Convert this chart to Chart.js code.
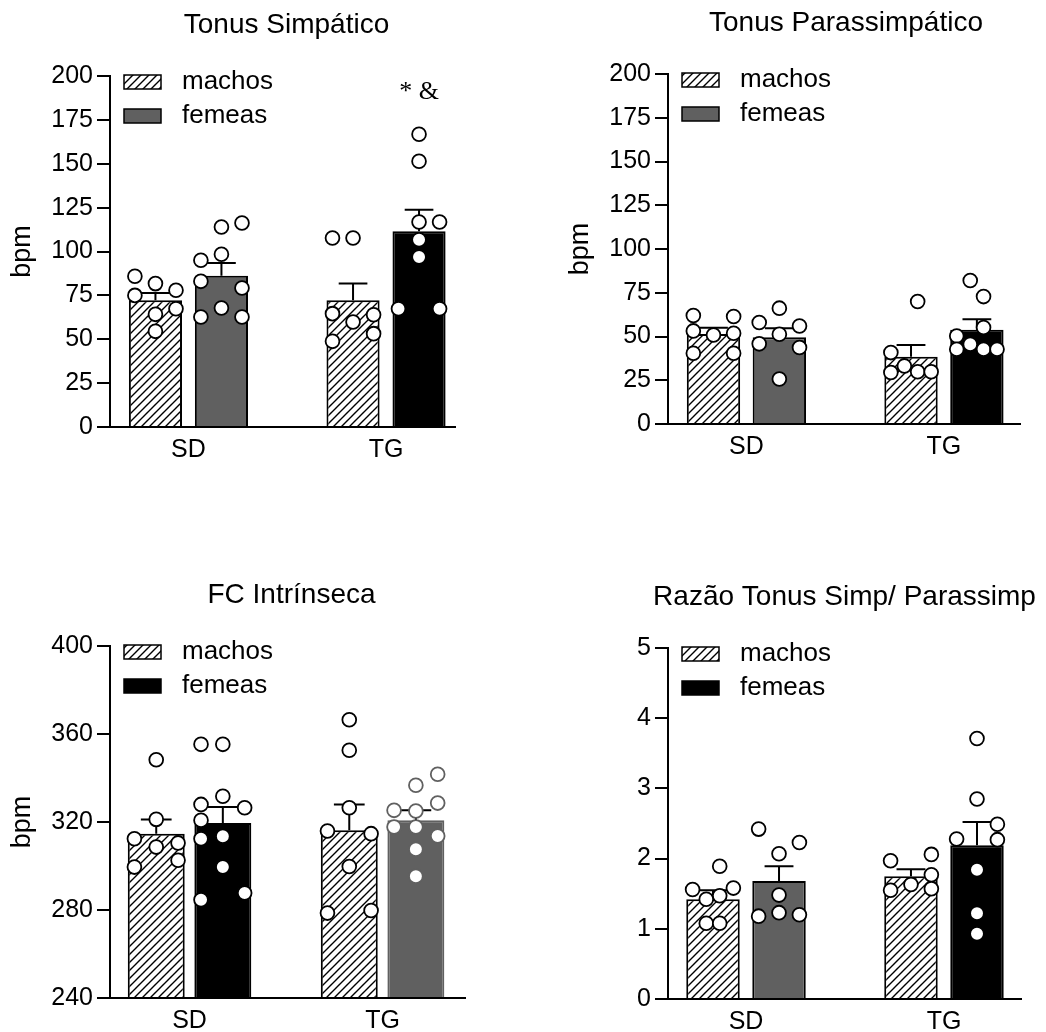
<!DOCTYPE html>
<html>
<head>
<meta charset="utf-8">
<script src="https://cdn.jsdelivr.net/npm/chart.js@4.4.1/dist/chart.umd.min.js"></script>
<style>
  html, body { margin: 0; padding: 0; background: #fff; }
  body { width: 1046px; height: 1032px; position: relative; overflow: hidden; }
  canvas { position: absolute; }
</style>
</head>
<body>
<canvas id="ts"></canvas>
<canvas id="tp"></canvas>
<canvas id="fc"></canvas>
<canvas id="rz"></canvas>
<script>
// four bar + dot panels (mean, SEM, individual animals)

const groups = ["SD", "TG"];
const sexLabels = ["machos", "femeas"];

// ---------- Tonus Simpático ----------
const tsYTicks = [0, 25, 50, 75, 100, 125, 150, 175, 200];
const tsMachosMean = [72.2, 72.2];
const tsMachosSem = [4.2, 9.5];
const tsFemeasMean = [86.2, 111.5];
const tsFemeasSem = [7.2, 12.3];
const tsMachosPts = [[85.9, 81.7, 77.9, 75.0, 67.4, 64.2, 54.5], [107.7, 107.7, 64.6, 64.0, 59.8, 53.2, 48.8]];
const tsMachosLanes = [[-1, 0, 1, -1, 1, 0, 0], [-1, 0, -1, 1, 0, 1, -1]];
const tsFemeasPts = [[114, 116.2, 95, 98.4, 83, 79.2, 67.8, 62.7, 62.7], [166.8, 151.4, 116.8, 116.8, 106.7, 96.9, 67.4, 67.4]];
const tsFemeasLanes = [[0, 1, -1, 0, -1, 1, 0, -1, 1], [0, 0, 0, 1, 0, 0, -1, 1]];
const tsFemeasNotes = ["", "* &"];

// ---------- Tonus Parassimpático ----------
const tpYTicks = [0, 25, 50, 75, 100, 125, 150, 175, 200];
const tpMachosMean = [51.5, 38.5];
const tpMachosSem = [3.5, 6.7];
const tpFemeasMean = [49.6, 53.8];
const tpFemeasSem = [5.1, 6.1];
const tpMachosPts = [[62, 61.4, 53.2, 50.9, 51.9, 40.4, 40.4], [70, 40.8, 33.2, 29.4, 29.9, 29.9]];
const tpMachosLanes = [[-1, 1, -1, 0, 1, -1, 1], [0.33, -1, -0.33, -1, 0.33, 1]];
const tpFemeasPts = [[66.2, 58, 56, 51.3, 45.8, 43.7, 25.7], [82, 72.8, 55.1, 50.3, 45.6, 42.7, 42.7, 42.7]];
const tpFemeasLanes = [[0, -1, 1, 0, -1, 1, 0], [-0.33, 0.33, 0.33, -1, -0.33, -1, 0.33, 1]];

// ---------- FC Intrínseca ----------
const fcYTicks = [240, 280, 320, 360, 400];
const fcMachosMean = [314.7, 316.2];
const fcMachosSem = [6.4, 11.8];
const fcFemeasMean = [319.5, 320.8];
const fcFemeasSem = [7.3, 4.5];
const fcMachosPts = [[348.3, 321.2, 312.4, 310.5, 308.6, 302.6, 299.5], [366.5, 352.6, 326.5, 315.9, 314.7, 299.8, 278.6, 279.8]];
const fcMachosLanes = [[0, 0, -1, 1, 0, 1, -1], [0, 0, 0, -1, 1, 0, -1, 1]];
const fcFemeasPts = [[355.3, 355.3, 331.7, 328, 326.5, 320.8, 312.4, 313.5, 299.5, 287.7, 284.7], [341.7, 336.7, 328.6, 325.3, 325, 317.7, 317.7, 313.6, 307.6, 295.3]];
const fcFemeasLanes = [[-1, 0, 0, -1, 1, -1, -1, 0, 0, 1, -1], [1, 0, 1, -1, 0, -1, 0, 1, 0, 0]];

// ---------- Razão Tonus Simp/ Parassimp ----------
const rzYTicks = [0, 1, 2, 3, 4, 5];
const rzMachosMean = [1.42, 1.75];
const rzMachosSem = [0.13, 0.10];
const rzFemeasMean = [1.68, 2.19];
const rzFemeasSem = [0.21, 0.33];
const rzMachosPts = [[1.89, 1.56, 1.58, 1.47, 1.42, 1.08, 1.08], [1.97, 2.06, 1.77, 1.63, 1.55, 1.57]];
const rzMachosLanes = [[0.33, -1, 1, 0.33, -0.33, -0.33, 0.33], [-1, 1, 1, 0, -1, 1]];
const rzFemeasPts = [[2.42, 2.23, 2.07, 1.48, 1.18, 1.23, 1.2], [3.71, 2.85, 2.49, 2.28, 2.27, 1.84, 1.22, 0.93]];
const rzFemeasLanes = [[-1, 1, 0, 0, -1, 0, 1], [0, 0, 1, -1, 1, 0, 0, 0]];

const FONT = '"Liberation Sans", Arial, Helvetica, sans-serif';
const GREY = "#606060";

// hatch "////" used for the machos bars
function makeHatch(ctx) {
  const s = 8;
  const c = document.createElement("canvas");
  c.width = c.height = s;
  const g = c.getContext("2d");
  g.fillStyle = "#fff";
  g.fillRect(0, 0, s, s);
  g.strokeStyle = "#000";
  g.lineWidth = 1.4;
  g.beginPath();
  g.moveTo(-1, s + 1); g.lineTo(s + 1, -1);
  g.moveTo(-2, 2); g.lineTo(2, -2);
  g.moveTo(s - 2, s + 2); g.lineTo(s + 2, s - 2);
  g.stroke();
  return ctx.createPattern(c, "repeat");
}

// SEM whiskers (upward only), drawn right after each bar dataset
const errorBars = {
  id: "errorBars",
  afterDatasetDraw(chart, args) {
    const ds = chart.data.datasets[args.index];
    if (!ds.sem) return;
    const ctx = chart.ctx, y = chart.scales.y;
    ctx.save();
    ctx.strokeStyle = "#000";
    ctx.lineWidth = 2;
    args.meta.data.forEach((bar, i) => {
      const top = y.getPixelForValue(ds.data[i].y + ds.sem[i]);
      const half = bar.width * 0.27;
      ctx.beginPath();
      ctx.moveTo(bar.x, bar.y);
      ctx.lineTo(bar.x, top);
      ctx.moveTo(bar.x - half, top);
      ctx.lineTo(bar.x + half, top);
      ctx.stroke();
    });
    ctx.restore();
  }
};

// panel title, in-plot legend and significance marks
const panelDecor = {
  id: "panelDecor",
  afterDraw(chart, args, opts) {
    const { ctx, chartArea: a } = chart;
    ctx.save();
    ctx.fillStyle = "#000";
    ctx.textBaseline = "middle";
    ctx.textAlign = "center";
    ctx.font = `28px ${FONT}`;
    ctx.fillText(opts.title, (a.left + a.right) / 2 + (opts.shift || 0), a.top - 51);

    ctx.textAlign = "left";
    ctx.font = `26px ${FONT}`;
    const bars = chart.data.datasets.filter(d => d.sem);
    bars.forEach((d, i) => {
      const yc = a.top + 6 + i * 34;
      const x0 = a.left + 14;
      ctx.fillStyle = d.legendFill;
      ctx.fillRect(x0, yc - 7, 37, 14);
      ctx.strokeStyle = "#000";
      ctx.lineWidth = 1.5;
      ctx.strokeRect(x0, yc - 7, 37, 14);
      ctx.fillStyle = "#000";
      ctx.fillText(d.label, x0 + 58, yc);
    });

    chart.data.datasets.forEach((d, k) => {
      if (!d.notes) return;
      const meta = chart.getDatasetMeta(k);
      ctx.textAlign = "center";
      ctx.font = `26px "Liberation Serif", "Times New Roman", serif`;
      d.notes.forEach((t, i) => {
        if (t) ctx.fillText(t, meta.data[i].x, a.top + 16);
      });
    });
    ctx.restore();
  }
};

function buildPanel(id, cfg) {
  const canvas = document.getElementById(id);
  canvas.width = cfg.box.w;
  canvas.height = cfg.box.h;
  canvas.style.left = cfg.box.left + "px";
  canvas.style.top = cfg.box.top + "px";
  const ctx = canvas.getContext("2d");
  const hatch = makeHatch(ctx);
  const off = cfg.cat / 4;

  const datasets = [
    {
      type: "bar", label: sexLabels[0], order: 2,
      data: groups.map((g, i) => ({ x: i, y: cfg.machos.mean[i] })),
      sem: cfg.machos.sem,
      backgroundColor: hatch, legendFill: hatch,
      borderColor: "#000", borderWidth: 2, base: cfg.yTicks[0]
    },
    {
      type: "bar", label: sexLabels[1], order: 2,
      data: groups.map((g, i) => ({ x: i, y: cfg.femeas.mean[i] })),
      sem: cfg.femeas.sem, notes: cfg.femeas.notes,
      backgroundColor: cfg.femeasColors, legendFill: cfg.legendColor,
      borderColor: cfg.femeasBorders, borderWidth: 2, base: cfg.yTicks[0]
    }
  ];

  [cfg.machos, cfg.femeas].forEach((s, k) => {
    s.pts.forEach((vals, g) => {
      datasets.push({
        type: "scatter", order: 1,
        data: vals.map((v, j) => ({ x: g + (k ? off : -off) + s.lanes[g][j] * cfg.lane, y: v })),
        pointRadius: 6.9, pointBorderWidth: 1.8,
        pointBackgroundColor: "#fff",
        pointBorderColor: (s.dotBorder && s.dotBorder[g]) || "#000"
      });
    });
  });

  new Chart(ctx, {
    type: "bar",
    data: { datasets },
    options: {
      responsive: false,
      animation: false,
      devicePixelRatio: 1,
      events: [],
      categoryPercentage: cfg.cat,
      barPercentage: cfg.bar,
      layout: { padding: cfg.pad },
      plugins: {
        legend: { display: false },
        tooltip: { enabled: false },
        panelDecor: { title: cfg.title, shift: cfg.titleShift }
      },
      scales: {
        x: {
          type: "linear", min: cfg.xRange[0], max: cfg.xRange[1], offset: false, bounds: "data",
          afterBuildTicks: s => { s.ticks = groups.map((g, i) => ({ value: i })); },
          afterFit: s => { s.height = 30; },
          grid: { display: false, drawTicks: false },
          border: { color: "#000", width: 2 },
          ticks: { color: "#000", padding: 8, maxRotation: 0, font: { family: FONT, size: 25 }, callback: v => groups[v] }
        },
        y: {
          min: cfg.yTicks[0], max: cfg.yTicks[cfg.yTicks.length - 1],
          afterBuildTicks: s => { s.ticks = cfg.yTicks.map(v => ({ value: v })); },
          afterFit: s => { s.width = 110; },
          grid: { drawOnChartArea: false, color: "#000", lineWidth: 2, tickLength: 13 },
          border: { color: "#000", width: 2 },
          ticks: { color: "#000", padding: 4, font: { family: FONT, size: 25 } },
          title: {
            display: !!cfg.yTitle, text: cfg.yTitle, color: "#000",
            font: { family: FONT, size: 27 }, padding: { top: 6, bottom: 0 }
          }
        }
      }
    },
    plugins: [errorBars, panelDecor]
  });
}

window.addEventListener("DOMContentLoaded", () => {
  buildPanel("ts", {
    title: "Tonus Simpático", titleShift: 4, yTitle: "bpm", yTicks: tsYTicks,
    box: { left: 0, top: 0, w: 523, h: 516 }, pad: { left: 0, top: 76, right: 68, bottom: 59 },
    xRange: [-0.397, 1.349], cat: 0.668, bar: 0.805, lane: 0.104,
    machos: { mean: tsMachosMean, sem: tsMachosSem, pts: tsMachosPts, lanes: tsMachosLanes },
    femeas: { mean: tsFemeasMean, sem: tsFemeasSem, pts: tsFemeasPts, lanes: tsFemeasLanes, notes: tsFemeasNotes },
    femeasColors: [GREY, "#000"], femeasBorders: ["#000", "#000"], legendColor: GREY
  });
  buildPanel("tp", {
    title: "Tonus Parassimpático", titleShift: 2, yTitle: "bpm", yTicks: tpYTicks,
    box: { left: 558, top: 0, w: 488, h: 516 }, pad: { left: 0, top: 74, right: 26, bottom: 62 },
    xRange: [-0.397, 1.385], cat: 0.667, bar: 0.81, lane: 0.102,
    machos: { mean: tpMachosMean, sem: tpMachosSem, pts: tpMachosPts, lanes: tpMachosLanes },
    femeas: { mean: tpFemeasMean, sem: tpFemeasSem, pts: tpFemeasPts, lanes: tpFemeasLanes },
    femeasColors: [GREY, "#000"], femeasBorders: ["#000", "#000"], legendColor: GREY
  });
  buildPanel("fc", {
    title: "FC Intrínseca", titleShift: 4, yTitle: "bpm", yTicks: fcYTicks,
    box: { left: 0, top: 516, w: 523, h: 516 }, pad: { left: 0, top: 130, right: 58, bottom: 4 },
    xRange: [-0.412, 1.427], cat: 0.69, bar: 0.855, lane: 0.113,
    machos: { mean: fcMachosMean, sem: fcMachosSem, pts: fcMachosPts, lanes: fcMachosLanes },
    femeas: { mean: fcFemeasMean, sem: fcFemeasSem, pts: fcFemeasPts, lanes: fcFemeasLanes, dotBorder: ["#000", GREY] },
    femeasColors: ["#000", GREY], femeasBorders: ["#000", GREY], legendColor: "#000"
  });
  buildPanel("rz", {
    title: "Razão Tonus Simp/ Parassimp", titleShift: 0, yTitle: "", yTicks: rzYTicks,
    box: { left: 558, top: 516, w: 488, h: 516 }, pad: { left: 0, top: 132, right: 25, bottom: 3 },
    xRange: [-0.394, 1.389], cat: 0.667, bar: 0.81, lane: 0.103,
    machos: { mean: rzMachosMean, sem: rzMachosSem, pts: rzMachosPts, lanes: rzMachosLanes },
    femeas: { mean: rzFemeasMean, sem: rzFemeasSem, pts: rzFemeasPts, lanes: rzFemeasLanes },
    femeasColors: [GREY, "#000"], femeasBorders: ["#000", "#000"], legendColor: "#000"
  });
});
</script>
</body>
</html>
